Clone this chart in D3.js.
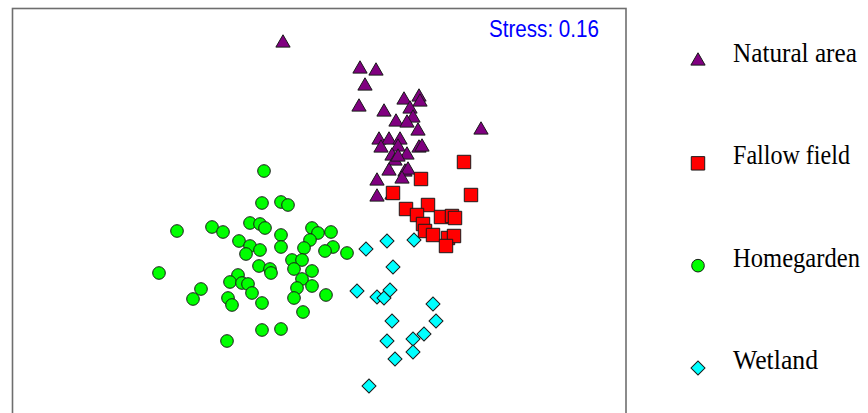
<!DOCTYPE html>
<html>
<head>
<meta charset="utf-8">
<script src="https://cdn.jsdelivr.net/npm/d3@7"></script>
<style>
  html, body { margin: 0; padding: 0; background: #fff; }
  svg { display: block; }
</style>
</head>
<body>
<svg id="chart" width="868" height="413"></svg>
<script>
// NMDS ordination scores [NMDS1, NMDS2]
const naturalArea = [
  [-0.37, 1.77], [0.40, 1.51], [0.56, 1.49], [0.45, 1.34], [0.39, 1.13], [0.64, 1.08],
  [0.84, 1.20], [0.99, 1.23], [1.00, 1.18], [0.90, 1.11], [0.93, 1.02], [0.76, 0.98],
  [0.87, 0.97], [0.98, 0.89], [1.61, 0.90], [0.59, 0.80], [0.69, 0.80], [0.80, 0.80],
  [0.61, 0.72], [0.78, 0.73], [0.99, 0.72], [1.02, 0.73], [0.72, 0.64], [0.87, 0.65],
  [0.75, 0.59], [0.78, 0.63], [0.69, 0.49], [0.85, 0.48], [0.88, 0.50], [0.82, 0.41],
  [0.57, 0.39], [0.57, 0.23], [0.72, 0.25]
];
const fallowField = [
  [1.44, 0.58], [1.01, 0.41], [0.73, 0.27], [1.51, 0.25], [1.08, 0.15], [0.86, 0.11],
  [0.97, 0.05], [1.21, 0.03], [1.32, 0.04], [1.35, 0.02], [1.03, -0.04], [1.05, -0.11],
  [1.13, -0.15], [1.28, -0.18], [1.34, -0.16], [1.26, -0.26]
];
const homegarden = [
  [-0.56, 0.49], [-0.58, 0.17], [-0.39, 0.18], [-0.32, 0.15], [-1.43, -0.11], [-1.08, -0.07],
  [-0.97, -0.12], [-0.70, -0.03], [-0.60, -0.04], [-0.55, -0.08], [-0.39, -0.15], [-0.39, -0.27],
  [-0.81, -0.21], [-0.70, -0.26], [-0.74, -0.34], [-0.60, -0.30], [-0.08, -0.08], [-0.02, -0.13],
  [0.11, -0.12], [-0.10, -0.20], [-0.16, -0.28], [0.13, -0.27], [0.05, -0.31], [0.27, -0.33],
  [-0.28, -0.40], [-0.18, -0.40], [-0.26, -0.49], [-0.08, -0.51], [-0.61, -0.46], [-0.50, -0.49],
  [-0.49, -0.53], [-1.61, -0.53], [-0.82, -0.55], [-0.90, -0.62], [-0.78, -0.63], [-0.72, -0.64],
  [-0.68, -0.73], [-0.18, -0.59], [-0.23, -0.68], [-0.08, -0.66], [0.06, -0.75], [-1.19, -0.69],
  [-1.27, -0.79], [-0.92, -0.78], [-0.88, -0.85], [-0.58, -0.83], [-0.26, -0.78], [-0.17, -0.92],
  [-0.58, -1.10], [-0.39, -1.09], [-0.93, -1.21]
];
const wetland = [
  [0.46, -0.29], [0.67, -0.21], [0.94, -0.20], [0.73, -0.47], [0.37, -0.71], [0.57, -0.77],
  [0.64, -0.78], [0.70, -0.70], [1.13, -0.84], [0.72, -1.01], [1.16, -1.01], [0.67, -1.21],
  [0.93, -1.19], [1.04, -1.14], [0.93, -1.32], [0.75, -1.39], [0.49, -1.66]
];
const groupNames = ["Natural area", "Fallow field", "Homegarden", "Wetland"];
const stressLabel = "Stress: 0.16";

// ---- styling / layout ----
const groups = [
  { name: groupNames[0], data: naturalArea, fill: "#800080", type: d3.symbolTriangle, size: 88, rot: 0, legendLen: 124 },
  { name: groupNames[1], data: fallowField, fill: "#ff0000", type: d3.symbolSquare, size: 180, rot: 0, legendLen: 117 },
  { name: groupNames[2], data: homegarden, fill: "#00ff00", type: d3.symbolCircle, size: 125, rot: 0, legendLen: 127 },
  { name: groupNames[3], data: wetland, fill: "#00ffff", type: d3.symbolSquare, size: 98, rot: 45, legendLen: 85 }
];

const svg = d3.select("#chart");
const x = d3.scaleLinear().domain([-3.075, 3.06]).range([12.5, 626]);
const y = d3.scaleLinear().domain([2.115, -2.0]).range([8.5, 420]);

// horizontally condense a text to a target width (glyphs squeezed)
function fitText(sel, x0, y0, width) {
  const w = sel.node().getComputedTextLength();
  const k = w > 0 ? width / w : 1;
  sel.attr("x", 0).attr("y", 0)
     .attr("transform", `translate(${x0},${y0}) scale(${k},1)`);
}

// frame
svg.append("rect")
  .attr("x", x.range()[0]).attr("y", y.range()[0])
  .attr("width", x.range()[1] - x.range()[0])
  .attr("height", y.range()[1] - y.range()[0])
  .attr("fill", "none").attr("stroke", "#6e6e6e").attr("stroke-width", 1.6);

// points
groups.forEach(g => {
  const sym = d3.symbol().type(g.type).size(g.size);
  svg.append("g").selectAll("path").data(g.data).join("path")
    .attr("d", sym)
    .attr("transform", d => `translate(${x(d[0])},${y(d[1])}) rotate(${g.rot})`)
    .attr("fill", g.fill)
    .attr("stroke", "#1a1a1a")
    .attr("stroke-width", 1);
});

// stress
const st = svg.append("text")
  .attr("font-family", "'Liberation Sans', Arial, sans-serif")
  .attr("font-size", 23.5)
  .attr("fill", "#0000ff")
  .text(stressLabel);
fitText(st, 489, 37, 110);

// legend
const legendY = d3.scalePoint().domain(groupNames).range([61, 368]);
const leg = svg.append("g");
groups.forEach(g => {
  const cy = legendY(g.name);
  leg.append("path")
    .attr("d", d3.symbol().type(g.type).size(g.size)())
    .attr("transform", `translate(698,${cy}) rotate(${g.rot})`)
    .attr("fill", g.fill).attr("stroke", "#1a1a1a").attr("stroke-width", 1);
  const t = leg.append("text")
    .attr("font-family", "'Liberation Serif', 'Times New Roman', serif")
    .attr("font-size", 27.5)
    .attr("fill", "#000")
    .text(g.name);
  fitText(t, 733, cy + 1, g.legendLen);
});
</script>
</body>
</html>
